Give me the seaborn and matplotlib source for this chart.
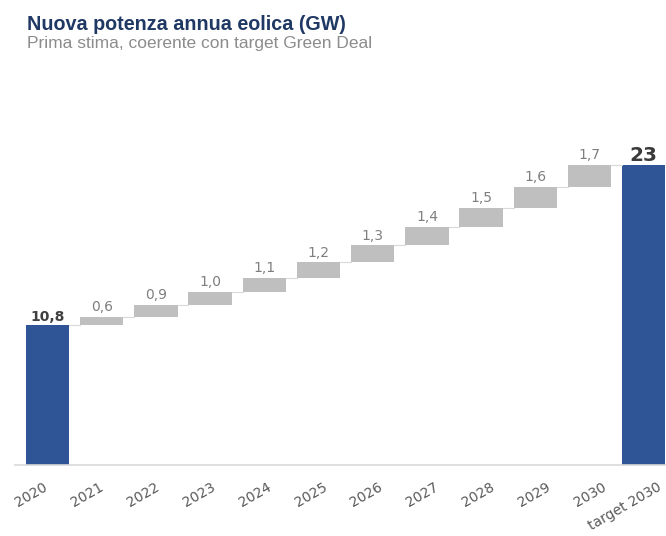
import numpy as np
import pandas as pd
import matplotlib
matplotlib.use("Agg")
import matplotlib.pyplot as plt
import seaborn as sns

# Waterfall data: starting capacity, yearly additions, 2030 target (GW)
categories = ["2020", "2021", "2022", "2023", "2024", "2025", "2026",
              "2027", "2028", "2029", "2030", "target 2030"]
start_value = 10.8
increments = [0.6, 0.9, 1.0, 1.1, 1.2, 1.3, 1.4, 1.5, 1.6, 1.7]
target_value = 23.0
value_labels = ["10,8", "0,6", "0,9", "1,0", "1,1", "1,2", "1,3",
                "1,4", "1,5", "1,6", "1,7", "23"]

cum = np.concatenate([[start_value], start_value + np.cumsum(increments)])
heights = [start_value] + increments + [cum[-1]]
bottoms = [0.0] + list(cum[:-1]) + [0.0]

df = pd.DataFrame({"cat": categories, "h": heights})

sns.set_theme(style="white")
plt.rcParams["font.family"] = ["Liberation Sans", "DejaVu Sans"]

BLUE = "#2F5597"
GREY = "#BFBFBF"
LABEL_FONT = ["DejaVu Sans"]

fig = plt.figure(figsize=(6.66, 5.36), dpi=100)
ax = fig.add_axes([15 / 666, 71 / 536, 651 / 666, 365 / 536])

sns.barplot(data=df, x="cat", y="h", order=categories, bottom=bottoms,
            color=GREY, width=0.8, saturation=1, ax=ax, errorbar=None)
patches = ax.patches
for i in (0, len(patches) - 1):
    patches[i].set_facecolor(BLUE)
for p in patches:
    p.set_edgecolor("none")

# connector lines between consecutive bars
for i in range(len(patches) - 1):
    p, q = patches[i], patches[i + 1]
    y = p.get_y() + p.get_height()
    ax.plot([p.get_x() + p.get_width(), q.get_x()], [y, y],
            color="#D9D9D9", lw=0.8, zorder=1)

# value labels
for i, (p, lab) in enumerate(zip(patches, value_labels)):
    xc = p.get_x() + p.get_width() / 2
    yt = p.get_y() + p.get_height()
    if i == 0:
        ax.text(xc, yt + 0.02, lab, ha="center", va="bottom", fontsize=10,
                fontweight="bold", color="#404040", family=LABEL_FONT)
    elif i == len(patches) - 1:
        ax.text(xc, yt - 0.02, lab, ha="center", va="bottom", fontsize=14.5,
                fontweight="bold", color="#3A3A3A", family=LABEL_FONT)
    else:
        ax.text(xc, yt + 0.22, lab, ha="center", va="bottom", fontsize=10,
                color="#7F7F7F", family=LABEL_FONT)

ax.set_xlim(-0.6, 11.41)
ax.set_ylim(0, 28.1)
ax.set_xlabel("")
ax.set_ylabel("")
ax.set_yticks([])
for s in ("top", "right", "left"):
    ax.spines[s].set_visible(False)
ax.spines["bottom"].set_color("#D9D9D9")
ax.spines["bottom"].set_linewidth(1.2)

# slanted category labels, spread slightly wider than the bars
tick_pos = np.arange(len(categories)) * 1.03 - 0.08
ax.set_xticks(tick_pos)
ax.set_xticklabels(categories)
ax.tick_params(axis="x", length=0, pad=11)
for t in ax.get_xticklabels():
    t.set_rotation(30)
    t.set_ha("right")
    t.set_rotation_mode("anchor")
    t.set_fontsize(10)
    t.set_family(LABEL_FONT)
    t.set_color("#595959")

fig.text(27 / 666, 1 - 30 / 536, "Nuova potenza annua eolica (GW)",
         fontsize=14.2, fontweight="bold", color="#1F3864", va="baseline")
fig.text(27 / 666, 1 - 48 / 536, "Prima stima, coerente con target Green Deal",
         fontsize=12.5, color="#8C8C8C", va="baseline")

fig.savefig("out.png", dpi=100)
